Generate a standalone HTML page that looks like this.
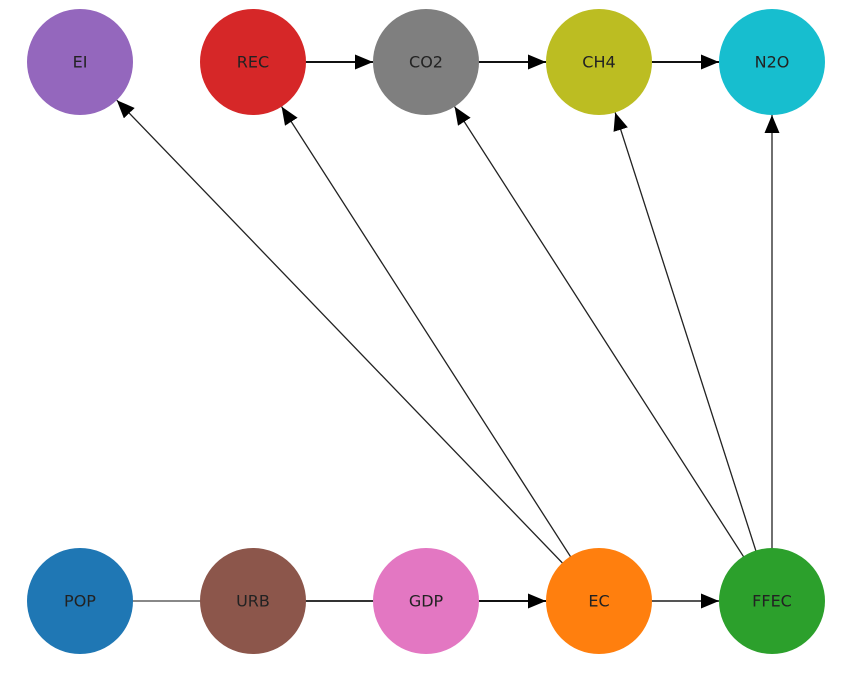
<!DOCTYPE html>
<html><head><meta charset="utf-8"><style>
html,body{margin:0;padding:0;background:#fff;}
svg{display:block;}
text{font-family:"DejaVu Sans","Liberation Sans",sans-serif;font-size:16px;fill:#222;text-anchor:middle;dominant-baseline:central;}
</style></head><body>
<svg width="858" height="678" viewBox="0 0 858 678" xmlns="http://www.w3.org/2000/svg">
<defs>
<marker id="a" markerUnits="userSpaceOnUse" markerWidth="20" markerHeight="16" refX="18" refY="7.5" orient="auto">
<path d="M0,0 L18,7.5 L0,15 Z" fill="#000"/>
</marker>
</defs>
<g stroke="#222" stroke-width="1.3" fill="none">
<line x1="599" y1="601" x2="116.8" y2="100.2" marker-end="url(#a)"/>
<line x1="599" y1="601" x2="281.6" y2="106.6" marker-end="url(#a)"/>
<line x1="772" y1="601" x2="454.6" y2="106.6" marker-end="url(#a)"/>
<line x1="772" y1="601" x2="615.2" y2="112.5" marker-end="url(#a)"/>
<line x1="772" y1="601" x2="772" y2="115" marker-end="url(#a)"/>
</g>
<g stroke="#111" stroke-width="2" fill="none">
<line x1="253" y1="62" x2="373" y2="62" marker-end="url(#a)"/>
<line x1="426" y1="62" x2="546" y2="62" marker-end="url(#a)"/>
<line x1="599" y1="62" x2="719" y2="62" marker-end="url(#a)"/>
<line x1="426" y1="601" x2="546" y2="601" marker-end="url(#a)"/>
<line x1="599" y1="601" x2="719" y2="601" stroke="#555" marker-end="url(#a)"/>
<line x1="80" y1="601" x2="253" y2="601" stroke="#888"/>
<line x1="253" y1="601" x2="426" y2="601" stroke="#333"/>
</g>
<g>
<circle cx="80" cy="62" r="53" fill="#9467bd"/>
<circle cx="253" cy="62" r="53" fill="#d62728"/>
<circle cx="426" cy="62" r="53" fill="#7f7f7f"/>
<circle cx="599" cy="62" r="53" fill="#bcbd22"/>
<circle cx="772" cy="62" r="53" fill="#17becf"/>
<circle cx="80" cy="601" r="53" fill="#1f77b4"/>
<circle cx="253" cy="601" r="53" fill="#8c564b"/>
<circle cx="426" cy="601" r="53" fill="#e377c2"/>
<circle cx="599" cy="601" r="53" fill="#ff7f0e"/>
<circle cx="772" cy="601" r="53" fill="#2ca02c"/>
</g>
<text x="80" y="62">EI</text>
<text x="253" y="62">REC</text>
<text x="426" y="62">CO2</text>
<text x="599" y="62">CH4</text>
<text x="772" y="62">N2O</text>
<text x="80" y="601">POP</text>
<text x="253" y="601">URB</text>
<text x="426" y="601">GDP</text>
<text x="599" y="601">EC</text>
<text x="772" y="601">FFEC</text>
</svg>
</body></html>
